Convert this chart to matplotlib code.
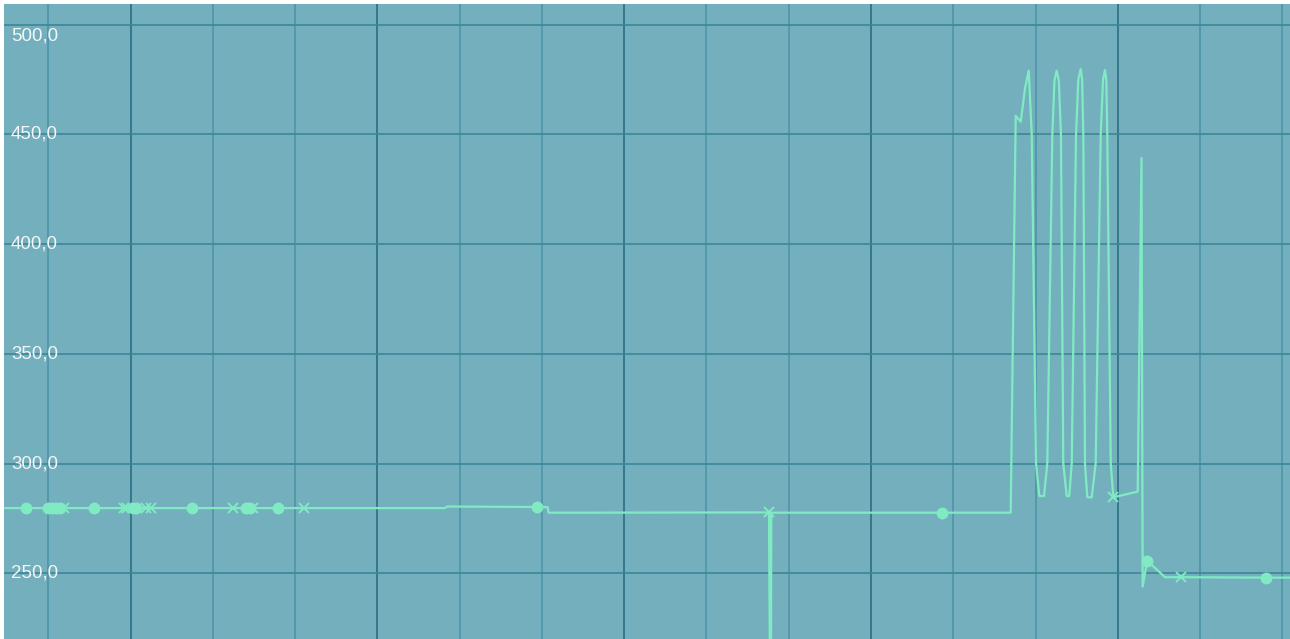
import matplotlib.pyplot as plt
from matplotlib.ticker import FixedLocator
import matplotlib.transforms as mtransforms

# line trace (x in grid units, y in value units)
line_x = [-0.6, 4.82, 4.85, 5.94, 6.07, 6.08, 8.76, 8.781, 8.788, 10.86, 11.698,
          11.759, 11.820, 11.873, 11.917, 11.954, 12.006, 12.046, 12.103, 12.143,
          12.204, 12.230, 12.257, 12.283, 12.309, 12.337, 12.379, 12.410, 12.440,
          12.492, 12.520, 12.549, 12.566, 12.581, 12.601, 12.629, 12.683, 12.731,
          12.792, 12.820, 12.844, 12.860, 12.872, 12.914, 12.945, 13.242, 13.288,
          13.302, 13.358, 13.574, 13.765, 14.801, 15.2]
line_y = [279.7, 279.7, 280.4, 280.2, 280.1, 277.6, 277.7, 150.0, 277.6, 277.6, 277.6,
          458.4, 455.7, 471.1, 479.0, 449.7, 300.0, 285.2, 285.2, 300.0,
          449.7, 474.5, 479.0, 474.5, 449.7, 300.0, 285.2, 285.2, 300.0,
          449.7, 475.0, 479.7, 475.0, 449.7, 300.0, 284.6, 284.6, 300.0,
          449.7, 474.8, 479.3, 474.8, 449.7, 300.0, 284.6, 287.2, 439.2,
          243.9, 255.7, 248.2, 248.2, 248.0, 248.0]

# filled dot markers
dot_x = [-0.271, -0.004, 0.045, 0.094, 0.142, 0.555, 1.030, 1.066, 1.747,
         2.403, 2.452, 2.792, 5.94, 10.86, 13.358, 14.801]
dot_y = [279.7, 279.7, 279.7, 279.7, 279.7, 279.7, 279.7, 279.7, 279.7,
         279.7, 279.7, 279.7, 280.2, 277.6, 255.7, 248.0]

# cross markers
cross_x = [0.191, 0.920, 0.957, 1.188, 1.248, 2.245, 2.488, 3.108, 8.76, 12.945, 13.765]
cross_y = [279.7, 279.7, 279.7, 279.7, 279.7, 279.7, 279.7, 279.7, 277.7, 284.6, 248.2]

y_ticks = [250, 300, 350, 400, 450, 500]
y_labels = ['250,0', '300,0', '350,0', '400,0', '450,0', '500,0']
major_x = [1, 4, 7, 10, 13]
minor_x = [0, 2, 3, 5, 6, 8, 9, 11, 12, 14, 15]

bg = '#74AFBE'
line_col = '#80EBC3'

fig = plt.figure(figsize=(12.9, 6.39), dpi=100, facecolor='white')
ax = fig.add_axes([4 / 1290, 0, 1286 / 1290, 635 / 639])
ax.set_facecolor(bg)

ax.set_xlim(-0.5385, 15.093)
ax.set_ylim(220.05, 509.34)

ax.xaxis.set_major_locator(FixedLocator(major_x))
ax.xaxis.set_minor_locator(FixedLocator(minor_x))
ax.yaxis.set_major_locator(FixedLocator(y_ticks))
ax.grid(True, which='major', axis='x', color='#2B6F83', lw=1.2)
ax.grid(True, which='minor', axis='x', color='#4D95A8', lw=1.2)
ax.grid(True, which='major', axis='y', color='#3D8599', lw=1.2)
ax.set_axisbelow(True)
ax.tick_params(which='both', length=0, labelbottom=False, labelleft=False)
for s in ax.spines.values():
    s.set_visible(False)

ax.plot(line_x, line_y, color=line_col, lw=1.6, zorder=3, clip_on=True)
ax.plot(dot_x, dot_y, 'o', color=line_col, ms=8.5, mew=0, zorder=4)
ax.plot(cross_x, cross_y, 'x', color=line_col, ms=7, mew=1.4, zorder=4)

# value labels sit inside the plot on the left
trans = mtransforms.blended_transform_factory(ax.transAxes, ax.transData)
for v, lab in zip(y_ticks, y_labels):
    if v == 500:
        ax.text(7 / 1286, v - 1.5, lab, transform=trans, ha='left', va='top',
                color='#F2F6F6', fontsize=13.5, family='Liberation Sans')
    else:
        ax.text(7 / 1286, v, lab, transform=trans, ha='left', va='center',
                color='#F2F6F6', fontsize=13.5, family='Liberation Sans')

fig.savefig('out.png', dpi=100, facecolor='white')
